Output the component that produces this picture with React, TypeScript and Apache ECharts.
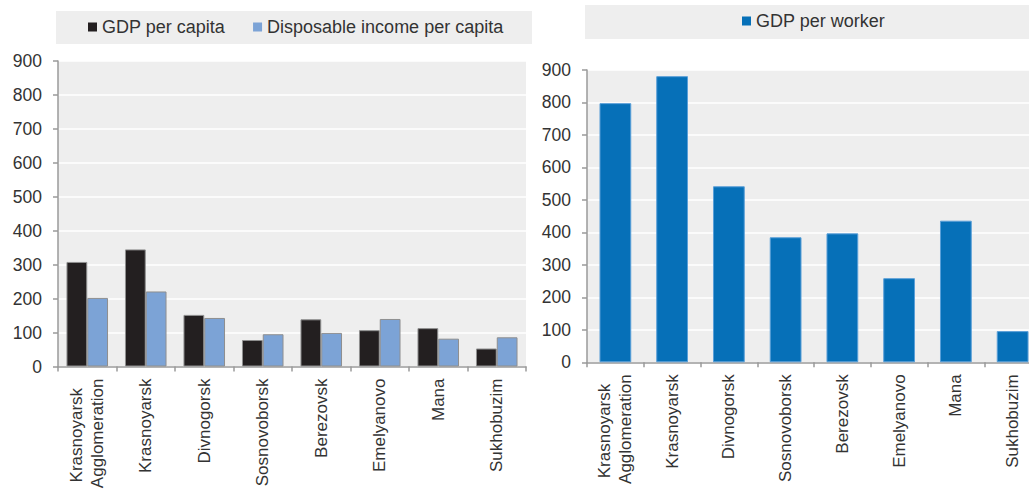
import React, { useEffect, useRef } from "react";
import * as echarts from "echarts";

const categories = [
  "Krasnoyarsk\nAgglomeration",
  "Krasnoyarsk",
  "Divnogorsk",
  "Sosnovoborsk",
  "Berezovsk",
  "Emelyanovo",
  "Mana",
  "Sukhobuzim",
];
const gdpPerCapita = [308, 345, 152, 78, 139, 107, 113, 53];
const disposableIncomePerCapita = [202, 221, 143, 95, 99, 140, 82, 86];
const gdpPerWorker = [798, 881, 542, 385, 397, 259, 436, 96];
const yTicks = { min: 0, max: 900, interval: 100 };

const FONT = "'Liberation Sans', Arial, sans-serif";
const TEXT = "#333333";
const AXIS = "#9a9a9a";
const PLOT_BG = "#eeeeee";

const labelFormatter = (v: string) => {
  if (v.indexOf("\n") >= 0) {
    const parts = v.split("\n");
    return parts[0] + "\u00A0\u00A0\n" + parts[1];
  }
  return v;
};

export default function App() {
  const ref = useRef<HTMLDivElement>(null);
  useEffect(() => {
    if (!ref.current) return;
    const chart = echarts.init(ref.current, undefined, { renderer: "svg" });
    const xAxisBase = (gridIndex: number) => ({
      type: "category",
      gridIndex,
      data: categories,
      axisLine: { show: true, lineStyle: { color: AXIS, width: 1.5 } },
      axisTick: { show: true, length: 5, lineStyle: { color: AXIS, width: 1.5 } },
      axisLabel: {
        rotate: 90,
        margin: 12,
        fontSize: 17,
        lineHeight: 21,
        color: TEXT,
        fontFamily: FONT,
        interval: 0,
        formatter: labelFormatter,
      },
      splitLine: { show: false },
    });
    const yAxisBase = (gridIndex: number) => ({
      type: "value",
      gridIndex,
      min: yTicks.min,
      max: yTicks.max,
      interval: yTicks.interval,
      axisLine: { show: true, lineStyle: { color: AXIS, width: 1.5 } },
      axisTick: { show: true, length: 5, lineStyle: { color: AXIS, width: 1.5 } },
      axisLabel: { margin: 16, fontSize: 17.5, color: TEXT, fontFamily: FONT },
      splitLine: { show: true, lineStyle: { color: "#ffffff", width: 1.5 } },
    });
    const legendItemStyle = { borderWidth: 0 };
    chart.setOption({
      animation: false,
      textStyle: { fontFamily: FONT },
      graphic: [
        { type: "rect", z: -10, shape: { x: 56, y: 11, width: 476, height: 33 }, style: { fill: PLOT_BG } },
        { type: "rect", z: -10, shape: { x: 585, y: 5, width: 460, height: 34 }, style: { fill: PLOT_BG } },
      ],
      legend: [
        {
          data: ["GDP per capita", "Disposable income per capita"],
          left: 88,
          top: 17,
          padding: 0,
          itemWidth: 9,
          itemHeight: 9,
          itemGap: 28,
          icon: "rect",
          itemStyle: legendItemStyle,
          textStyle: { fontSize: 18, color: TEXT, fontFamily: FONT, lineHeight: 20 },
        },
        {
          data: ["GDP per worker"],
          left: 742,
          top: 11,
          padding: 0,
          itemWidth: 9,
          itemHeight: 9,
          icon: "rect",
          itemStyle: legendItemStyle,
          textStyle: { fontSize: 18, color: TEXT, fontFamily: FONT, lineHeight: 20 },
        },
      ],
      grid: [
        {
          left: 58, width: 468, top: 61, bottom: 125.5,
          show: true, backgroundColor: PLOT_BG, borderWidth: 0,
          outerBoundsMode: "none", containLabel: false,
        },
        {
          left: 587, width: 454, top: 70, bottom: 129.7,
          show: true, backgroundColor: PLOT_BG, borderWidth: 0,
          outerBoundsMode: "none", containLabel: false,
        },
      ],
      xAxis: [xAxisBase(0), xAxisBase(1)],
      yAxis: [yAxisBase(0), yAxisBase(1)],
      series: [
        {
          name: "GDP per capita",
          type: "bar",
          xAxisIndex: 0,
          yAxisIndex: 0,
          data: gdpPerCapita,
          barGap: "0%",
          barCategoryGap: "29%",
          itemStyle: { color: "#231f20", borderColor: "#8f8f8f", borderWidth: 1 },
        },
        {
          name: "Disposable income per capita",
          type: "bar",
          xAxisIndex: 0,
          yAxisIndex: 0,
          data: disposableIncomePerCapita,
          barGap: "0%",
          barCategoryGap: "29%",
          itemStyle: { color: "#7ca3d6", borderColor: "#8f8f8f", borderWidth: 1 },
        },
        {
          name: "GDP per worker",
          type: "bar",
          xAxisIndex: 1,
          yAxisIndex: 1,
          data: gdpPerWorker,
          barCategoryGap: "44%",
          itemStyle: { color: "#0670b8", borderColor: "#5a9fd8", borderWidth: 1 },
        },
      ],
    });
    return () => chart.dispose();
  }, []);
  return (
    <div
      ref={ref}
      style={{ position: "absolute", left: 0, top: 0, width: 1029, height: 492 }}
    />
  );
}
